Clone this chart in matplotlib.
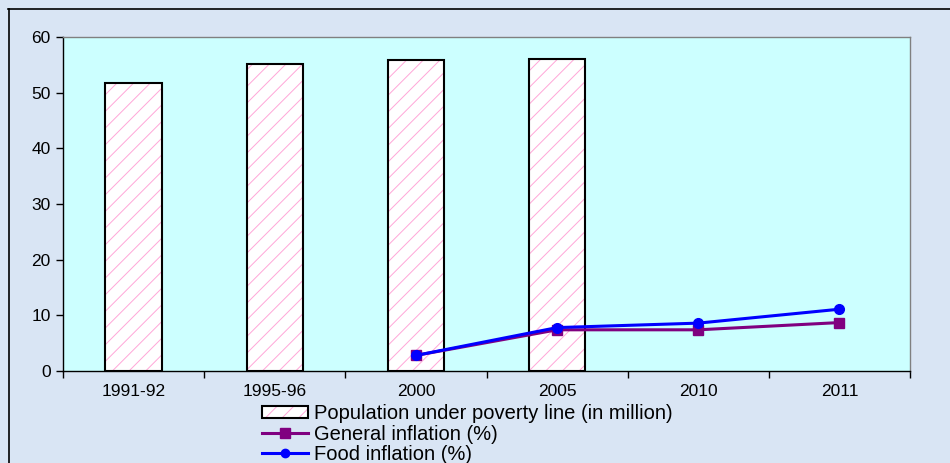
import numpy as np
import matplotlib
matplotlib.use('Agg')
import matplotlib.pyplot as plt
from matplotlib.patches import Patch
from matplotlib.lines import Line2D

plt.rcParams.update({
    "font.family": ["Liberation Sans", "DejaVu Sans"],
    "font.size": 12.5,
    "hatch.color": "#ffa6d8",
    "hatch.linewidth": 0.7,
})

# ------------------------- data ----------------------------------------------
categories = ['1991-92', '1995-96', '2000', '2005', '2010', '2011']
poverty_pop = [51.7, 55.2, 55.8, 56.0, np.nan, np.nan]   # million
general_infl = [np.nan, np.nan, 2.8, 7.4, 7.4, 8.7]       # %
food_infl = [np.nan, np.nan, 2.8, 7.8, 8.6, 11.1]         # %

legend_names = [
    'Population under poverty line (in million)',
    'General inflation (%)',
    'Food inflation (%)',
]

# ------------------------- figure --------------------------------------------
fig = plt.figure(figsize=(9.5, 4.63), dpi=100)
fig.patch.set_facecolor('#d9e5f4')

# outer frame of the original slide (top and left edges visible)
fig.add_artist(Line2D([0.008, 1.0], [1 - 9 / 463, 1 - 9 / 463],
                      transform=fig.transFigure, color='black', lw=1.2))
fig.add_artist(Line2D([0.009, 0.009], [0.0, 1 - 9 / 463],
                      transform=fig.transFigure, color='black', lw=1.2))

ax = fig.add_axes([63 / 950, 92 / 463, 847 / 950, 334 / 463])
ax.set_facecolor('#ccffff')

x = np.arange(len(categories))

# bars: pink hatch first, black outline on top
ax.bar(x, poverty_pop, width=0.4, color='white', hatch='//', linewidth=0, zorder=2)
ax.bar(x, poverty_pop, width=0.4, fill=False, edgecolor='black', linewidth=1.5, zorder=3)

ax.plot(x, general_infl, color='#800080', lw=2.2, marker='s', markersize=7, zorder=4)
ax.plot(x, food_infl, color='#0000ff', lw=2.2, marker='o', markersize=7, zorder=5)

ax.set_xlim(-0.5, len(categories) - 0.5)
ax.set_ylim(0, 60)
ax.set_yticks(np.arange(0, 61, 10))

# category boundaries as major ticks, labels on minor ticks
ax.set_xticks(np.arange(-0.5, len(categories), 1.0))
ax.set_xticklabels([])
ax.set_xticks(x, minor=True)
ax.set_xticklabels(categories, minor=True)
ax.tick_params(axis='x', which='major', direction='out', length=5, width=1, color='black')
ax.tick_params(axis='x', which='minor', length=0, pad=9, labelsize=12.5)
ax.tick_params(axis='y', direction='out', length=5, width=1, pad=4, labelsize=12.5)

for side in ['top', 'right']:
    ax.spines[side].set_color('#808080')
    ax.spines[side].set_linewidth(1)
for side in ['left', 'bottom']:
    ax.spines[side].set_color('black')
    ax.spines[side].set_linewidth(1)

# legend below the plot
bar_handle = (Patch(facecolor='white', hatch='//', linewidth=0),
              Patch(fill=False, edgecolor='black', linewidth=1.5))
gen_handle = Line2D([], [], color='#800080', lw=2.2, marker='s', markersize=7)
food_handle = Line2D([], [], color='#0000ff', lw=2.2, marker='o', markersize=6)
ax.legend([bar_handle, gen_handle, food_handle], legend_names,
          loc='upper left', bbox_to_anchor=(262 / 950, 1 - 404 / 463),
          bbox_transform=fig.transFigure, frameon=False, fontsize=14.5,
          borderpad=0, borderaxespad=0, handlelength=2.3, handleheight=0.6,
          handletextpad=0.3, labelspacing=0.08)

plt.savefig('out.png', dpi=100, facecolor=fig.get_facecolor())
